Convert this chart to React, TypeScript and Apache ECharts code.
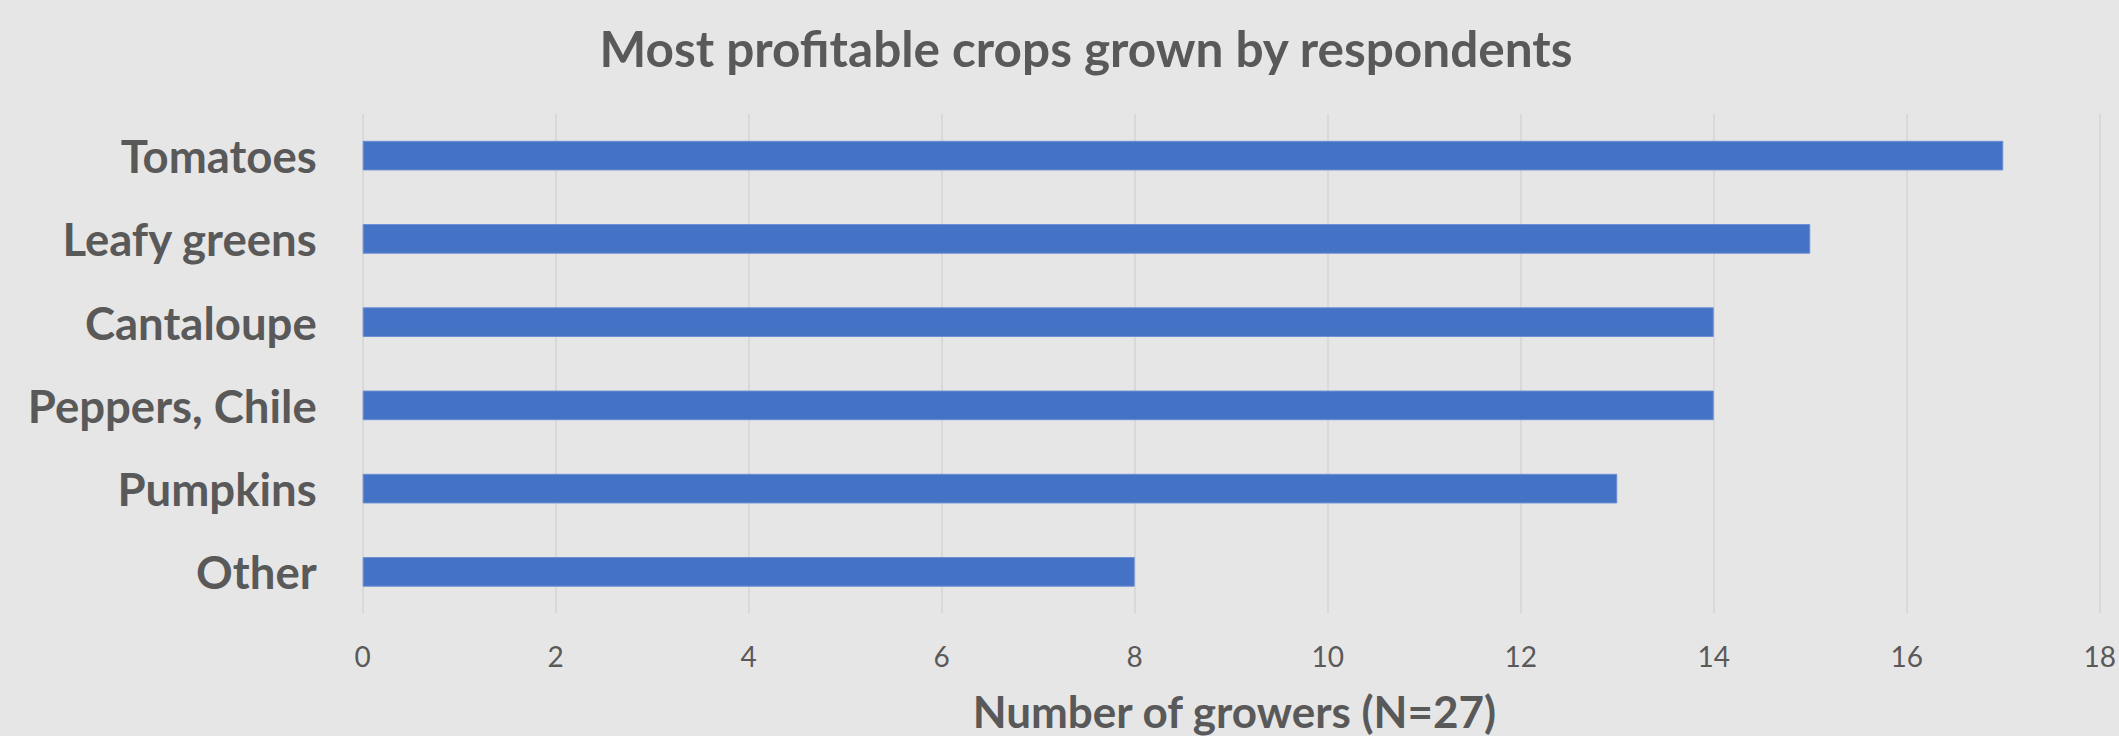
import React, { useEffect, useRef } from "react";
import * as echarts from "echarts";

const categories = ["Tomatoes", "Leafy greens", "Cantaloupe", "Peppers, Chile", "Pumpkins", "Other"];
const growers = [17, 15, 14, 14, 13, 8];
const chartTitle = "Most profitable crops grown by respondents";
const xAxisTitle = "Number of growers (N=27)";
const xMin = 0;
const xMax = 18;
const xStep = 2;

const W = 2119;
const H = 736;
const FONT = "Lato, 'Noto Sans', sans-serif";
const TEXT = "#595959";

export default function App() {
  const ref = useRef<HTMLDivElement>(null);
  useEffect(() => {
    if (!ref.current) return;
    const chart = echarts.init(ref.current, undefined, { renderer: "svg", width: W, height: H });
    const gridLeft = 362.7;
    const gridRight = W - 2106;
    const gridTop = 114;
    const gridBottom = H - 613.5;
    chart.setOption({
      animation: false,
      backgroundColor: "#E7E6E6",
      grid: { left: gridLeft, right: gridRight, top: gridTop, bottom: gridBottom, containLabel: false },
      xAxis: {
        type: "value",
        min: xMin,
        max: xMax,
        interval: xStep,
        axisLine: { show: false },
        axisTick: { show: false },
        splitLine: { show: true, lineStyle: { color: "#D4D4D4", width: 1.5 } },
        axisLabel: {
          color: TEXT,
          fontFamily: FONT,
          fontSize: 28,
          margin: 42.5,
          verticalAlign: "middle",
          showMaxLabel: true,
          showMinLabel: true,
        },
      },
      yAxis: {
        type: "category",
        data: categories,
        inverse: true,
        axisLine: { show: false },
        axisTick: { show: false },
        splitLine: { show: false },
        axisLabel: {
          color: TEXT,
          fontFamily: FONT,
          fontWeight: "bold",
          fontSize: 45.5,
          margin: 46,
          verticalAlign: "middle",
        },
      },
      series: [
        {
          type: "bar",
          data: growers,
          barWidth: 29.6,
          itemStyle: { color: "#4472C4", borderColor: "#6A8ED4", borderWidth: 1 },
        },
      ],
      graphic: [
        {
          type: "text",
          x: 1086,
          y: 47.6,
          style: {
            text: chartTitle,
            fill: TEXT,
            font: `bold 49.5px ${FONT}`,
            textAlign: "center",
            textVerticalAlign: "middle",
          },
        },
        {
          type: "text",
          x: 1234.4,
          y: 710.8,
          style: {
            text: xAxisTitle,
            fill: TEXT,
            font: `bold 44px ${FONT}`,
            textAlign: "center",
            textVerticalAlign: "middle",
          },
        },
      ],
    });
    return () => chart.dispose();
  }, []);
  return <div ref={ref} style={{ position: "fixed", left: 0, top: 0, width: W, height: H }} />;
}
